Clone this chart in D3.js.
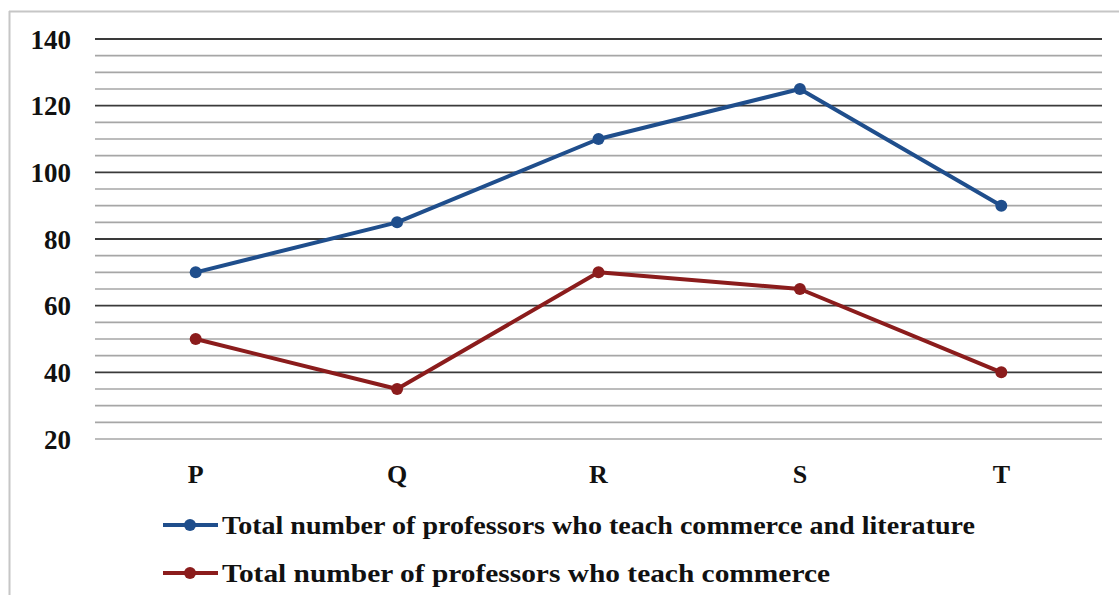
<!DOCTYPE html>
<html><head><meta charset="utf-8">
<script src="https://cdn.jsdelivr.net/npm/d3@7"></script>
<style>body{margin:0;background:#fff}svg{display:block}</style>
</head><body>
<svg id="c" width="1119" height="595"></svg>
<script>
const categories = ["P","Q","R","S","T"];
const seriesNames = ["Total number of professors who teach commerce and literature","Total number of professors who teach commerce"];
const commerceAndLiterature = [70,85,110,125,90];
const commerce = [50,35,70,65,40];
const yTicks = [20,40,60,80,100,120,140];
const colors = ["#1f4e8c","#8b1c1c"];

const svg = d3.select("#c");
const FONT = "'Liberation Serif', 'DejaVu Serif', serif";
// border
svg.append("line").attr("x1",9.5).attr("x2",9.5).attr("y1",11).attr("y2",595).attr("stroke","#c6c6c6").attr("stroke-width",2);
svg.append("line").attr("x1",9).attr("x2",1119).attr("y1",11.5).attr("y2",11.5).attr("stroke","#c6c6c6").attr("stroke-width",2);

const x = d3.scaleBand().domain(categories).range([95,1102]);
const y = d3.scaleLinear().domain([20,140]).range([439,39]);

const minor = d3.range(20,141,5);
svg.append("g").selectAll("line").data(minor).join("line")
  .attr("x1",95).attr("x2",1102)
  .attr("y1",d=>y(d)).attr("y2",d=>y(d))
  .attr("stroke",d=>(d%20===0 && d!==20)?"#3a3a3a":"#a6a6a6")
  .attr("stroke-width",d=>(d%20===0 && d!==20)?1.8:1.6);

const yAxis = d3.axisLeft(y).tickValues(yTicks).tickSize(0).tickPadding(0);
const gy = svg.append("g").attr("transform","translate(71,0)").call(yAxis);
gy.select(".domain").remove();
gy.selectAll("text").attr("font-family",FONT).attr("font-weight","bold").attr("font-size",27).attr("fill","#111").attr("dy","0.34em");

const xAxis = d3.axisBottom(x).tickSize(0).tickPadding(0);
const gx = svg.append("g").attr("transform","translate(0,465)").call(xAxis);
gx.select(".domain").remove();
gx.selectAll("text").attr("font-family",FONT).attr("font-weight","bold").attr("font-size",26).attr("fill","#111").attr("dy","0.7em");

const line = d3.line().x((d,i)=>x(categories[i])+x.bandwidth()/2).y(d=>y(d));
[commerceAndLiterature, commerce].forEach((vals,k)=>{
  svg.append("path").datum(vals).attr("d",line).attr("fill","none")
    .attr("stroke",colors[k]).attr("stroke-width",4).attr("stroke-linejoin","round");
  svg.append("g").selectAll("circle").data(vals).join("circle")
    .attr("cx",(d,i)=>x(categories[i])+x.bandwidth()/2).attr("cy",d=>y(d)).attr("r",6)
    .attr("fill",colors[k]);
});

// legend
const legY = [525, 573];
const legW = [753, 608];
seriesNames.forEach((name,k)=>{
  const g = svg.append("g");
  g.append("line").attr("x1",163).attr("x2",218).attr("y1",legY[k]).attr("y2",legY[k]).attr("stroke",colors[k]).attr("stroke-width",4);
  g.append("circle").attr("cx",190).attr("cy",legY[k]).attr("r",6).attr("fill",colors[k]);
  g.append("text").attr("x",222).attr("y",legY[k]).attr("dy","0.34em")
    .attr("font-family",FONT).attr("font-weight","bold").attr("font-size",26).attr("fill","#111")
    .attr("textLength",legW[k]).attr("lengthAdjust","spacingAndGlyphs").text(name);
});
</script>
</body></html>
